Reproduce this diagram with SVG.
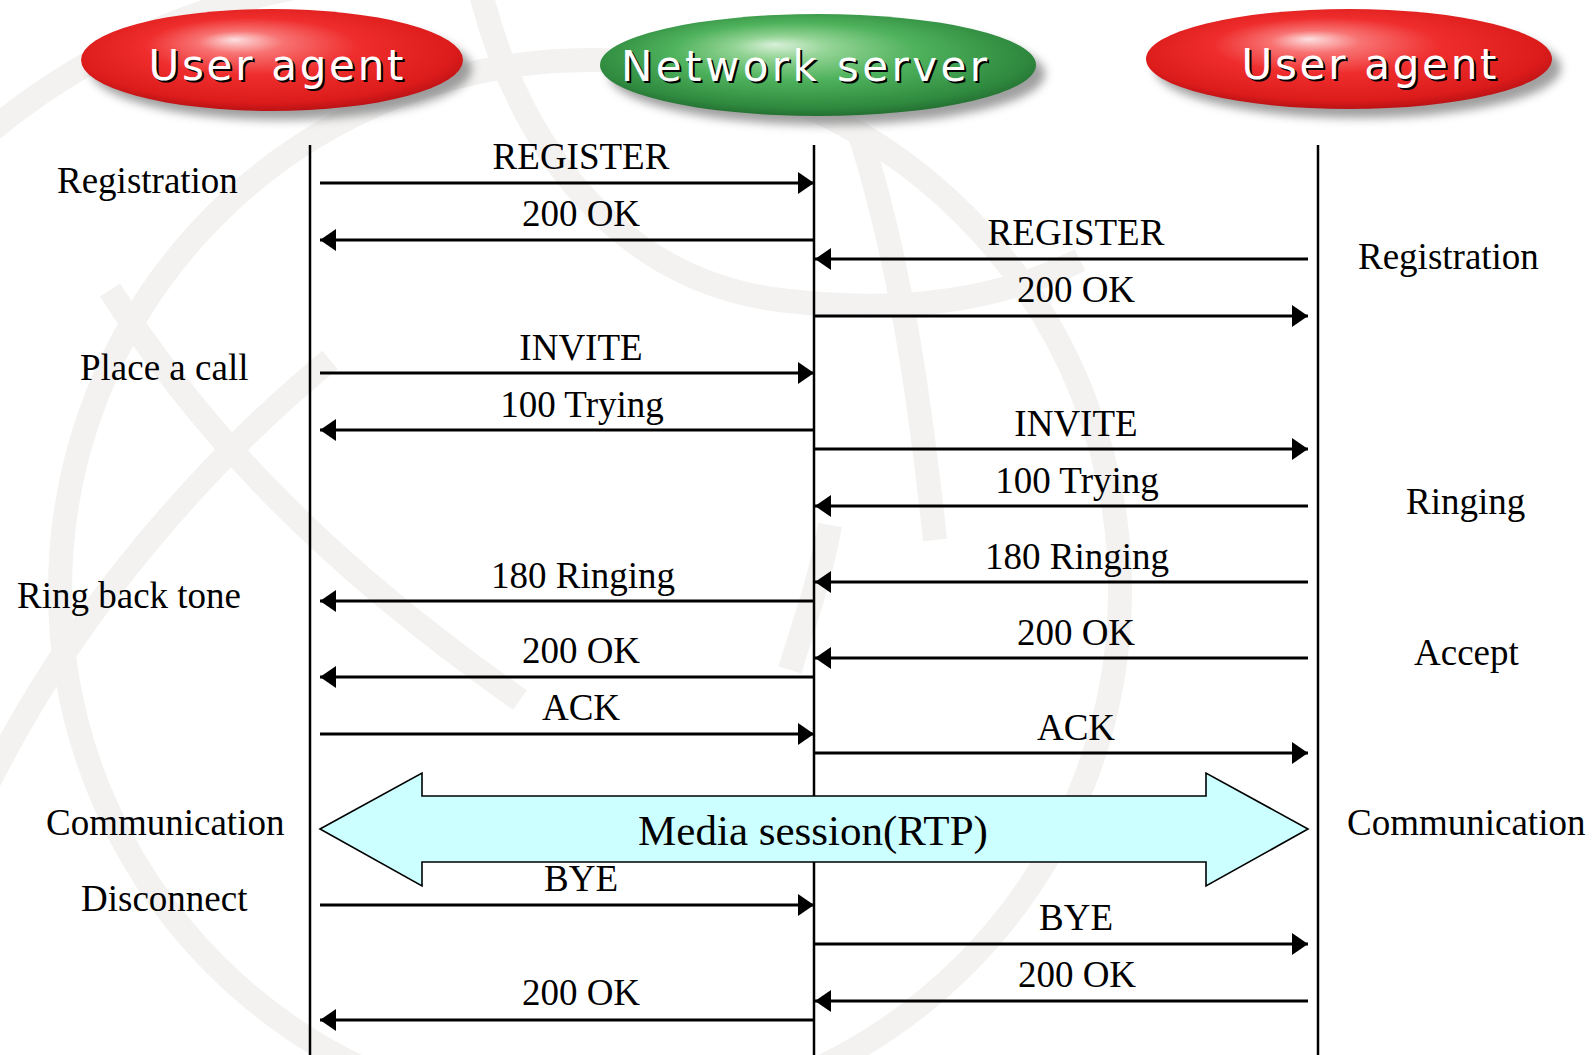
<svg xmlns="http://www.w3.org/2000/svg" width="1594" height="1055" viewBox="0 0 1594 1055">
<defs>
  <radialGradient id="gRed" cx="0.5" cy="0.45" r="0.62" fx="0.4" fy="0.3">
    <stop offset="0" stop-color="#fde0e0"/>
    <stop offset="0.18" stop-color="#f87272"/>
    <stop offset="0.45" stop-color="#ef2d2d"/>
    <stop offset="0.8" stop-color="#dc1b1b"/>
    <stop offset="1" stop-color="#9e0b10"/>
  </radialGradient>
  <radialGradient id="gGreen" cx="0.5" cy="0.45" r="0.62" fx="0.4" fy="0.3">
    <stop offset="0" stop-color="#d8f0d8"/>
    <stop offset="0.18" stop-color="#92d394"/>
    <stop offset="0.45" stop-color="#4fb25c"/>
    <stop offset="0.8" stop-color="#2f8a3f"/>
    <stop offset="1" stop-color="#1c5a27"/>
  </radialGradient>
  <filter id="blur" x="-20%" y="-40%" width="140%" height="180%">
    <feGaussianBlur stdDeviation="5"/>
  </filter>
  <marker id="ah" viewBox="0 0 16 22" refX="16" refY="11" markerWidth="16" markerHeight="22" markerUnits="userSpaceOnUse" orient="auto">
    <path d="M0,0 L16,11 L0,22 Z" fill="#000"/>
  </marker>
  <style>
    .wm { fill: none; stroke: #f3f2f1; stroke-width: 24; }
    .life { stroke: #000; stroke-width: 2.5; }
    .msg { stroke: #000; stroke-width: 3; fill: none; marker-end: url(#ah); }
    .t { font-family: "Liberation Serif", "Times New Roman", serif; font-size: 37px; fill: #000; }
    .m { text-anchor: middle; }
    .hd { font-family: "DejaVu Sans", Verdana, sans-serif; font-size: 42px; text-anchor: middle; }
    .shadow { fill: #808080; opacity: 0.75; }
  </style>
</defs>
<rect width="1594" height="1055" fill="#ffffff"/>

<g id="watermark">
  <circle class="wm" cx="590" cy="590" r="530"/>
  <path class="wm" d="M -20 140 Q 130 10 340 -20"/>
  <path class="wm" d="M 330 360 C 220 450 80 600 -10 780"/>
  <path class="wm" d="M 110 290 C 200 430 320 560 520 700"/>
  <path class="wm" d="M 860 135 C 900 260 920 400 935 540"/>
  <path class="wm" d="M 480 -10 C 520 150 620 280 780 300 C 900 315 1000 300 1080 260"/>
  <path class="wm" d="M 830 525 C 820 580 805 620 790 670"/>
</g>

<g id="node-ua-left">
  <ellipse class="shadow" cx="281" cy="69" rx="191" ry="51" filter="url(#blur)"/>
  <ellipse cx="272" cy="60" rx="191" ry="51" fill="url(#gRed)"/>
  <text class="hd" x="278" y="82" fill="#000" textLength="255" lengthAdjust="spacing">User agent</text>
  <text class="hd" x="276" y="80" fill="#fff" textLength="255" lengthAdjust="spacing">User agent</text>
</g>
<g id="node-server">
  <ellipse class="shadow" cx="827" cy="74" rx="218" ry="51" filter="url(#blur)"/>
  <ellipse cx="818" cy="65" rx="218" ry="51" fill="url(#gGreen)"/>
  <text class="hd" x="806" y="83" fill="#000" textLength="366" lengthAdjust="spacing">Network server</text>
  <text class="hd" x="804" y="81" fill="#fff" textLength="366" lengthAdjust="spacing">Network server</text>
</g>
<g id="node-ua-right">
  <ellipse class="shadow" cx="1358" cy="68" rx="203" ry="50" filter="url(#blur)"/>
  <ellipse cx="1349" cy="59" rx="203" ry="50" fill="url(#gRed)"/>
  <text class="hd" x="1371" y="81" fill="#000" textLength="255" lengthAdjust="spacing">User agent</text>
  <text class="hd" x="1369" y="79" fill="#fff" textLength="255" lengthAdjust="spacing">User agent</text>
</g>

<g id="lifelines">
  <line class="life" x1="310" y1="145" x2="310" y2="1055"/>
  <line class="life" x1="814" y1="145" x2="814" y2="1055"/>
  <line class="life" x1="1318" y1="145" x2="1318" y2="1055"/>
</g>

<g id="media-session">
  <path d="M320,829 L422,773 L422,796 L1206,796 L1206,773 L1308,829 L1206,886 L1206,862 L422,862 L422,886 Z" fill="#ccffff" stroke="#000" stroke-width="1.6" stroke-linejoin="miter"/>
  <text class="t m" x="813" y="845" style="font-size:43px">Media session(RTP)</text>
</g>

<g id="connectors">
  <line class="msg" x1="320" y1="183" x2="814" y2="183"/>
  <line class="msg" x1="814" y1="240" x2="320" y2="240"/>
  <line class="msg" x1="1308" y1="259" x2="815" y2="259"/>
  <line class="msg" x1="814" y1="316" x2="1308" y2="316"/>
  <line class="msg" x1="320" y1="373" x2="814" y2="373"/>
  <line class="msg" x1="814" y1="430" x2="320" y2="430"/>
  <line class="msg" x1="814" y1="449" x2="1308" y2="449"/>
  <line class="msg" x1="1308" y1="506" x2="815" y2="506"/>
  <line class="msg" x1="1308" y1="582" x2="815" y2="582"/>
  <line class="msg" x1="814" y1="601" x2="320" y2="601"/>
  <line class="msg" x1="1308" y1="658" x2="815" y2="658"/>
  <line class="msg" x1="814" y1="677" x2="320" y2="677"/>
  <line class="msg" x1="320" y1="734" x2="814" y2="734"/>
  <line class="msg" x1="814" y1="753" x2="1308" y2="753"/>
  <line class="msg" x1="320" y1="905" x2="814" y2="905"/>
  <line class="msg" x1="814" y1="944" x2="1308" y2="944"/>
  <line class="msg" x1="1308" y1="1001" x2="815" y2="1001"/>
  <line class="msg" x1="814" y1="1020" x2="320" y2="1020"/>
</g>

<g id="message-labels">
  <text class="t m" x="581" y="169">REGISTER</text>
  <text class="t m" x="581" y="226">200 OK</text>
  <text class="t m" x="1076" y="245">REGISTER</text>
  <text class="t m" x="1076" y="302">200 OK</text>
  <text class="t m" x="581" y="360">INVITE</text>
  <text class="t m" x="582" y="417">100 Trying</text>
  <text class="t m" x="1076" y="436">INVITE</text>
  <text class="t m" x="1077" y="493">100 Trying</text>
  <text class="t m" x="1077" y="569">180 Ringing</text>
  <text class="t m" x="583" y="588">180 Ringing</text>
  <text class="t m" x="1076" y="645">200 OK</text>
  <text class="t m" x="581" y="663">200 OK</text>
  <text class="t m" x="581" y="720">ACK</text>
  <text class="t m" x="1076" y="740">ACK</text>
  <text class="t m" x="581" y="891">BYE</text>
  <text class="t m" x="1076" y="930">BYE</text>
  <text class="t m" x="1077" y="987">200 OK</text>
  <text class="t m" x="581" y="1005">200 OK</text>
</g>

<g id="phase-labels">
  <text class="t" x="57" y="193">Registration</text>
  <text class="t" x="80" y="380">Place a call</text>
  <text class="t" x="17" y="608">Ring back tone</text>
  <text class="t" x="46" y="835">Communication</text>
  <text class="t" x="81" y="911">Disconnect</text>
  <text class="t" x="1358" y="269">Registration</text>
  <text class="t" x="1406" y="514">Ringing</text>
  <text class="t" x="1414" y="665">Accept</text>
  <text class="t" x="1347" y="835">Communication</text>
</g>
</svg>
